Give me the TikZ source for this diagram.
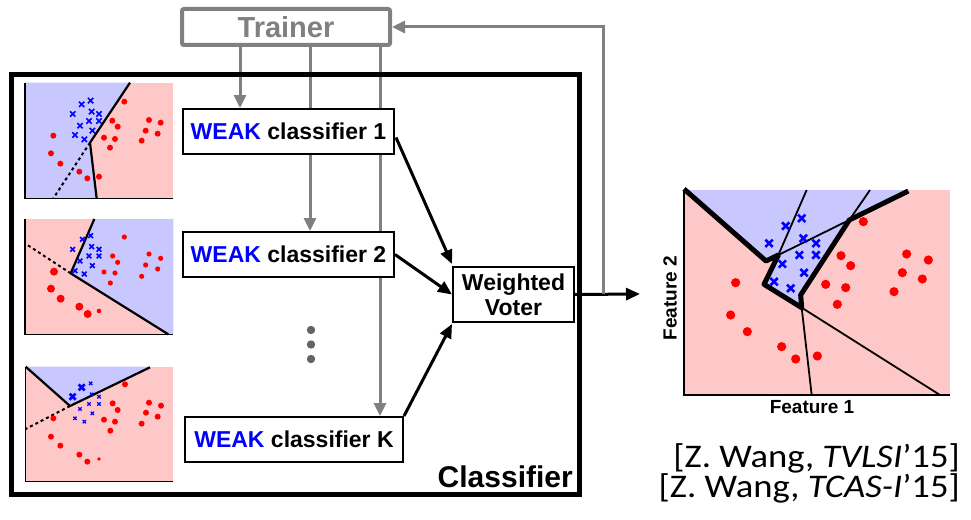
\documentclass[tikz,border=0pt]{standalone}
\usepackage{fontspec}
\setmainfont{Liberation Sans}
\newfontfamily\citefont[FakeStretch=1.11]{Carlito}
\usetikzlibrary{arrows.meta,calc,backgrounds}

\definecolor{regblue}{RGB}{200,200,255}
\definecolor{regpink}{RGB}{255,200,200}
\definecolor{trgray}{RGB}{128,128,128}
\definecolor{dotgray}{RGB}{100,100,100}
\definecolor{ptred}{RGB}{255,0,0}
\definecolor{ptblue}{RGB}{0,0,255}

\begin{document}
\begin{tikzpicture}[x=1pt,y=-1pt,
  box/.style={draw=black, fill=white, line width=2pt, inner sep=0pt,
    font=\bfseries\fontsize{23}{26}\selectfont},
  grayarrow/.style={draw=trgray, line width=3pt, -{Triangle[length=13pt,width=12pt]}},
  blackarrow/.style={draw=black, line width=3pt, -{Triangle[length=14pt,width=12pt]}},
  axis/.style={draw=black, line width=1.3pt},
  bound/.style={draw=black, line width=2.2pt, line join=round},
  dashbound/.style={draw=black, line width=2pt, dash pattern=on 3pt off 3pt},
  thickbound/.style={draw=black, line width=5pt, line join=round},
  thinbound/.style={draw=black, line width=1.8pt},
  xmk/.style={draw=ptblue, line width=1.6pt},
  bigxmk/.style={draw=ptblue, line width=2.6pt},
  lbl/.style={font=\bfseries\fontsize{19}{21}\selectfont, inner sep=0pt}]

\useasboundingbox (0,0) rectangle (971,519);

% ---------- outer classifier frame ----------
\node[draw=black, line width=5pt, minimum width=568pt, minimum height=420pt,
  inner sep=0pt] (clf) at (295,284) {};
\node[anchor=base east, inner sep=0pt, font=\bfseries\fontsize{30}{33}\selectfont]
  (clflabel) at (573,487) {Classifier};

% ---------- trainer ----------
\node[draw=trgray, line width=4pt, rounded corners=2pt, fill=white,
  minimum width=208pt, minimum height=36pt, inner sep=0pt, text=trgray,
  font=\bfseries\fontsize{29}{32}\selectfont] (trainer) at (286,27) {Trainer};

% x positions of the trainer's control lines
\coordinate (c1) at (240,0);
\coordinate (c2) at (310,0);
\coordinate (c3) at (380,0);

% ---------- weak classifiers and voter ----------
\node[box, minimum width=211pt, minimum height=45pt] (w1) at (288.5,131.5)
  {\textcolor{ptblue}{WEAK} classifier 1};
\node[box, minimum width=211pt, minimum height=45pt] (w2) at (288.5,254.5)
  {\textcolor{ptblue}{WEAK} classifier 2};
\node[box, minimum width=218pt, minimum height=45pt] (wK) at (294,439.5)
  {\textcolor{ptblue}{WEAK} classifier K};
\node[box, minimum width=121pt, minimum height=55pt, align=center,
  font=\bfseries\fontsize{23}{25}\selectfont] (voter) at (513.5,294.5)
  {Weighted\\Voter};

% trainer control lines, passing behind the classifier boxes
\begin{scope}[on background layer]
  \draw[grayarrow] (trainer.south -| c1) -- (w1.north -| c1);
  \draw[grayarrow] (trainer.south -| c2) -- (w2.north -| c2);
  \draw[grayarrow] (trainer.south -| c3) -- (wK.north -| c3);
\end{scope}

% ellipsis between classifier 2 and K
\foreach \yy in {330,344.5,359}
  \fill[dotgray] (311,\yy) circle[radius=4.2pt];

% votes
\draw[blackarrow] ($(w1.east)+(1,6)$) -- ($(voter.north west)+(0,-2)$);
\draw[blackarrow] (w2.east) -- (voter.west);
\draw[blackarrow] (wK.north east) -- ($(voter.south west)+(0,1)$);

% output and feedback to the trainer
\coordinate (fb) at (603,294);
\coordinate (out) at (640,294);
\draw[blackarrow] (voter.east) -- (out);
\draw[grayarrow] (fb) -- (fb |- trainer.east) -- (trainer.east);

% ---------- small decision plots of the weak classifiers ----------
% plot 1
\begin{scope}[shift={(0,60)}, x=0.33333pt, y=-0.33333pt]
  \fill[regpink] (75,68) rectangle (520,415);
  \fill[regblue] (75,68) -- (390,68) -- (270,248) -- (290,415) -- (75,415) -- cycle;
  \draw[bound] (390,68) -- (270,248) -- (290,415);
  \draw[dashbound] (270,248) -- (160,415);
  \draw[axis] (75,68) -- (75,415) -- (520,415);
  \foreach \a/\b in {245/133,272/122,218/162,275/155,297/162,240/197,267/183,
      297/183,225/225,277/212,253/238}
    \draw[xmk] (\a,\b) +(-8,-8) -- +(8,8) +(-8,8) -- +(8,-8);
  \foreach \a/\b in {373/125,160/227,337/182,353/200,447/180,482/188,437/212,
      473/221,425/242,312/233,345/237,330/263,153/280,181/311,238/335,262/355,297/350}
    \fill[ptred] (\a,\b) circle[radius=3pt];
\end{scope}

% plot 2
\begin{scope}[shift={(0,200)}, x=0.33333pt, y=-0.33333pt]
  \fill[regpink] (75,57) rectangle (520,403);
  \fill[regblue] (283,57) -- (520,57) -- (520,403) -- (505,403) -- (212,220) -- cycle;
  \draw[bound] (283,57) -- (212,220) -- (505,403);
  \draw[dashbound] (212,220) -- (75,130);
  \draw[axis] (75,57) -- (75,403) -- (520,403);
  \foreach \a/\b in {247/118,272/107,218/148,275/140,297/148,240/183,267/168,
      297/168,225/212,277/197,253/222}
    \draw[xmk] (\a,\b) +(-7,-7) -- +(7,7) +(-7,7) -- +(7,-7);
  \foreach \a/\b in {373/111,338/168,353/187,447/162,482/175,437/195,473/207,
      425/229,312/216,345/219,331/249}
    \fill[ptred] (\a,\b) circle[radius=2.6pt];
  \fill[ptred] (297,333) circle[radius=2.3pt];
  \foreach \a/\b in {162/215,153/266,182/296,238/320,263/342}
    \fill[ptred] (\a,\b) circle[radius=4pt];
\end{scope}

% plot 3
\begin{scope}[shift={(0,350)}, x=0.33333pt, y=-0.33333pt]
  \fill[regpink] (77,50) rectangle (520,395);
  \fill[regblue] (77,50) -- (450,50) -- (210,168) -- cycle;
  \draw[bound] (77,50) -- (210,168) -- (450,52);
  \draw[dashbound] (210,168) -- (77,237);
  \draw[axis] (77,50) -- (77,395) -- (520,395);
  \foreach \a/\b in {218/140,245/112}
    \draw[bigxmk] (\a,\b) +(-9,-9) -- +(9,9) +(-9,9) -- +(9,-9);
  \foreach \a/\b in {272/100,275/133,297/140,240/177,267/162,297/162,225/205,
      277/190,253/215}
    \draw[xmk, line width=1.2pt] (\a,\b) +(-5,-5) -- +(5,5) +(-5,5) -- +(5,-5);
  \foreach \a/\b in {375/103,160/205,338/160,353/180,447/158,483/167,438/188,
      473/200,425/221,312/209,345/215,331/242,153/260,181/287,238/314,262/335}
    \fill[ptred] (\a,\b) circle[radius=3pt];
  \fill[ptred] (297,327) circle[radius=1.8pt];
\end{scope}

% ---------- combined decision boundary ----------
\begin{scope}[shift={(660,175)}, x=0.33333pt, y=-0.33333pt]
  \fill[regpink] (72,45) rectangle (870,660);
  \fill[regblue] (72,45) -- (745,45) -- (568,135) -- (422,360) -- (425,398)
    -- (312,328) -- (355,240) -- (318,258) -- cycle;
  \draw[thinbound] (440,45) -- (355,240);
  \draw[thinbound] (630,45) -- (568,135) -- (355,240);
  \draw[thinbound] (425,398) -- (455,660);
  \draw[thinbound] (425,398) -- (840,660);
  \draw[thickbound] (72,42) -- (318,258) -- (355,240) -- (312,328) -- (425,398)
    -- (422,360) -- (568,135) -- (745,48);
  \draw[axis, line width=2pt] (72,45) -- (72,660) -- (870,660);
  \foreach \a/\b in {327/205,377/153,425/130,430/190,468/205,418/240,468/240,
      367/267,432/293,342/320,392/340}
    \draw[xmk, line width=2.6pt] (\a,\b) +(-11,-11) -- +(11,11) +(-11,11) -- +(11,-11);
  \foreach \a/\b in {610/140,543/242,572/272,497/328,557/338,532/388,740/237,
      805/255,727/293,787/312,702/350,227/323,212/420,262/470,365/515,407/552,472/543}
    \fill[ptred] (\a,\b) circle[radius=4.6pt];
\end{scope}

\node[lbl, rotate=90] (f2) at (670,298) {Feature 2};
\node[lbl] (f1) at (812,407) {Feature 1};

% ---------- references ----------
\node[anchor=base east, inner sep=0pt, font=\citefont\fontsize{33}{36}\selectfont]
  (ref1) at (960,467) {[Z. Wang, \textit{TVLSI}’15]};
\node[anchor=base east, inner sep=0pt, font=\citefont\fontsize{33}{36}\selectfont]
  (ref2) at (960,497) {[Z. Wang, \textit{TCAS-I}’15]};

\end{tikzpicture}
\end{document}
